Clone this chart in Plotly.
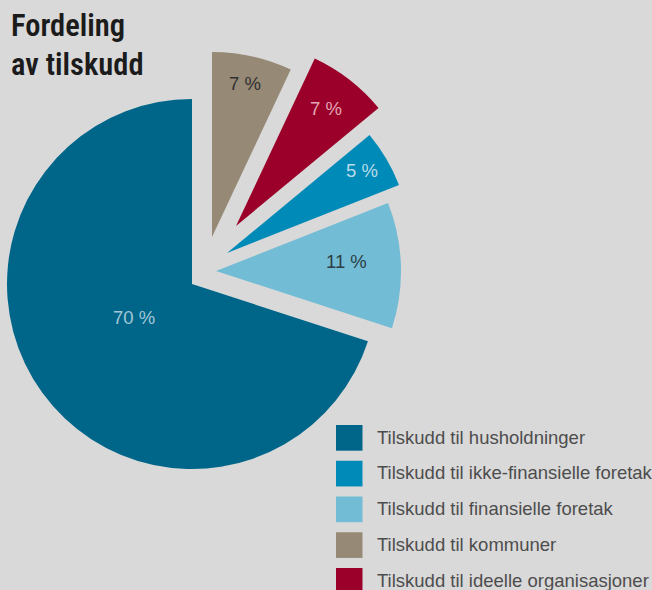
import plotly.graph_objects as go

# ---------------- data ----------------
# slices in clockwise order starting at 12 o'clock
categories = [
    "Tilskudd til kommuner",
    "Tilskudd til ideelle organisasjoner",
    "Tilskudd til ikke-finansielle foretak",
    "Tilskudd til finansielle foretak",
    "Tilskudd til husholdninger",
]
shares = [7, 7, 5, 11, 70]
legend_order = [
    "Tilskudd til husholdninger",
    "Tilskudd til ikke-finansielle foretak",
    "Tilskudd til finansielle foretak",
    "Tilskudd til kommuner",
    "Tilskudd til ideelle organisasjoner",
]
title_lines = ["Fordeling", "av tilskudd"]

# ---------------- style ----------------
W, H = 652, 590
BG = "#d9d9d9"
CX, CY, R = 192, 284, 185  # pie centre / radius in px

colors = {
    "Tilskudd til husholdninger": "#006689",
    "Tilskudd til ikke-finansielle foretak": "#008ab7",
    "Tilskudd til finansielle foretak": "#73bcd5",
    "Tilskudd til kommuner": "#968a77",
    "Tilskudd til ideelle organisasjoner": "#9a0029",
}
# explode offsets (px, y downwards)
explode = {
    "Tilskudd til husholdninger": (0, 0),
    "Tilskudd til ikke-finansielle foretak": (35, -31),
    "Tilskudd til finansielle foretak": (24, -13),
    "Tilskudd til kommuner": (20, -47),
    "Tilskudd til ideelle organisasjoner": (44, -58),
}
# percentage label placement (px) and colour
label_pos = {
    "Tilskudd til husholdninger": (134, 317),
    "Tilskudd til ikke-finansielle foretak": (362.5, 170),
    "Tilskudd til finansielle foretak": (346.5, 261.5),
    "Tilskudd til kommuner": (245, 83),
    "Tilskudd til ideelle organisasjoner": (325.5, 108.5),
}
label_color = {
    "Tilskudd til husholdninger": "#a3c6d6",
    "Tilskudd til ikke-finansielle foretak": "#b9dcea",
    "Tilskudd til finansielle foretak": "#2c3e46",
    "Tilskudd til kommuner": "#303030",
    "Tilskudd til ideelle organisasjoner": "#e2a6b4",
}
TEXT_FONT = "Liberation Sans, Arial, sans-serif"
TITLE_FONT = "Roboto Condensed, Liberation Sans Narrow, Liberation Sans, sans-serif"


def px(x):
    return x / W


def py(y):
    return 1 - y / H


fig = go.Figure()

for cat in categories:
    dx, dy = explode[cat]
    cx, cy = CX + dx, CY + dy
    fig.add_trace(go.Pie(
        values=shares,
        labels=categories,
        sort=False,
        direction="clockwise",
        rotation=0,
        marker=dict(colors=[colors[c] if c == cat else "rgba(0,0,0,0)" for c in categories],
                    line=dict(width=0)),
        textinfo="none",
        hoverinfo="skip",
        showlegend=False,
        domain=dict(x=[(cx - R) / W, (cx + R) / W],
                    y=[(H - cy - R) / H, (H - cy + R) / H]),
    ))

annotations = []
shapes = []

# percentage labels
for cat, v in zip(categories, shares):
    x, y = label_pos[cat]
    annotations.append(dict(
        x=px(x), y=py(y), xref="paper", yref="paper",
        text=f"{v} %", showarrow=False, xanchor="center", yanchor="middle",
        font=dict(family=TEXT_FONT, size=18.5, color=label_color[cat]),
    ))

# title
for i, line in enumerate(title_lines):
    annotations.append(dict(
        x=px(9), y=py(26 + 38.3 * i), xref="paper", yref="paper",
        text=line, showarrow=False, xanchor="left", yanchor="middle",
        font=dict(family=TITLE_FONT, size=30.5, color="#1b1b1b", weight=600),
    ))

# legend
for i, cat in enumerate(legend_order):
    top = 425 + 35.75 * i
    shapes.append(dict(
        type="rect", xref="paper", yref="paper",
        x0=px(336), x1=px(362.5), y0=py(top), y1=py(top + 25.7),
        fillcolor=colors[cat], line=dict(width=0),
    ))
    annotations.append(dict(
        x=px(375), y=py(top + 12), xref="paper", yref="paper",
        text=cat, showarrow=False, xanchor="left", yanchor="middle",
        font=dict(family=TEXT_FONT, size=18.5, color="#4d4d4d"),
    ))

fig.update_layout(
    width=W, height=H,
    margin=dict(l=0, r=0, t=0, b=0),
    paper_bgcolor=BG, plot_bgcolor=BG,
    annotations=annotations, shapes=shapes,
    showlegend=False,
)

fig.write_html(
    "out.html",
    config={"displayModeBar": False},
    post_script="document.body.style.margin='0';document.body.style.background='%s';" % BG,
)
